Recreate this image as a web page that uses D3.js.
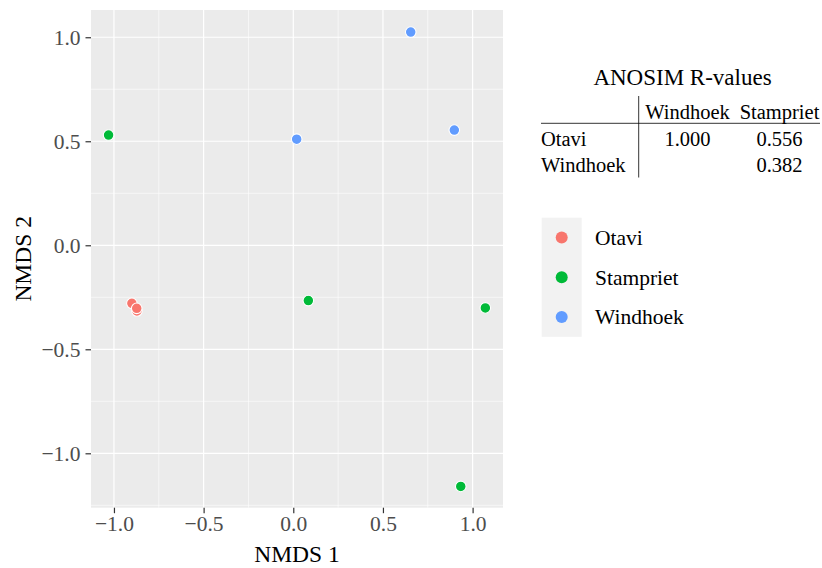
<!DOCTYPE html>
<html>
<head>
<meta charset="utf-8">
<script src="https://cdn.jsdelivr.net/npm/d3@7"></script>
<style>
	body { margin: 0; background: #fff; }
	svg { display: block; font-family: "Liberation Serif", "DejaVu Serif", serif; }
</style>
</head>
<body>
<svg id="chart"></svg>
<script>
;(() => {
	'use strict';

	// groups and their ggplot hue colours
	const groups = ['Otavi', 'Stampriet', 'Windhoek'],
		groupColors = ['#F8766D', '#00BA38', '#619CFF'];

	// NMDS scores
	const sampleSite = ['Otavi', 'Otavi', 'Otavi', 'Stampriet', 'Stampriet', 'Stampriet', 'Stampriet', 'Windhoek', 'Windhoek', 'Windhoek'],
		nmds1 = [-0.900, -0.872, -0.873, -1.030, 0.084, 1.071, 0.934, 0.019, 0.655, 0.898],
		nmds2 = [-0.279, -0.316, -0.303, 0.530, -0.266, -0.301, -1.159, 0.510, 1.025, 0.554];

	const xTicks = [-1, -0.5, 0, 0.5, 1],
		yTicks = [-1, -0.5, 0, 0.5, 1],
		xMinor = [-0.75, -0.25, 0.25, 0.75],
		yMinor = [-1.25, -0.75, -0.25, 0.25, 0.75];

	// ANOSIM table
	const tableTitle = 'ANOSIM R-values',
		tableCols = ['Windhoek', 'Stampriet'],
		tableRows = ['Otavi', 'Windhoek'],
		rValues = [['1.000', '0.556'], ['', '0.382']];

	const width = 822,
		height = 568,
		panel = {left: 91, right: 503, top: 10, bottom: 507.7};

	const svg = d3.select('#chart')
		.attr('width', width)
		.attr('height', height);

	const x = d3.scaleLinear().domain([-1.128, 1.1695]).range([panel.left, panel.right]),
		y = d3.scaleLinear().domain([-1.2615, 1.131]).range([panel.bottom, panel.top]),
		color = d3.scaleOrdinal().domain(groups).range(groupColors);

	const fmt = (d) => d3.format('.1f')(d).replace('-', '\u2212');

	// panel background
	svg.append('rect')
		.attr('x', panel.left)
		.attr('y', panel.top)
		.attr('width', panel.right - panel.left)
		.attr('height', panel.bottom - panel.top)
		.attr('fill', '#ebebeb');

	const grid = svg.append('g').attr('stroke', '#fff');

	grid.selectAll('.vminor').data(xMinor).enter().append('line')
		.attr('x1', x).attr('x2', x)
		.attr('y1', panel.top).attr('y2', panel.bottom)
		.attr('stroke-width', 0.6);
	grid.selectAll('.hminor').data(yMinor).enter().append('line')
		.attr('y1', y).attr('y2', y)
		.attr('x1', panel.left).attr('x2', panel.right)
		.attr('stroke-width', 0.6);
	grid.selectAll('.vmajor').data(xTicks).enter().append('line')
		.attr('x1', x).attr('x2', x)
		.attr('y1', panel.top).attr('y2', panel.bottom)
		.attr('stroke-width', 1.2);
	grid.selectAll('.hmajor').data(yTicks).enter().append('line')
		.attr('y1', y).attr('y2', y)
		.attr('x1', panel.left).attr('x2', panel.right)
		.attr('stroke-width', 1.2);

	// axes
	const xAxis = svg.append('g')
		.attr('transform', `translate(0,${panel.bottom})`)
		.call(d3.axisBottom(x).tickValues(xTicks).tickFormat(fmt).tickSize(5.5).tickPadding(3));
	const yAxis = svg.append('g')
		.attr('transform', `translate(${panel.left},0)`)
		.call(d3.axisLeft(y).tickValues(yTicks).tickFormat(fmt).tickSize(5.5).tickPadding(5));

	[xAxis, yAxis].forEach((ax) => {
		ax.select('.domain').remove();
		ax.selectAll('line').attr('stroke', '#333').attr('stroke-width', 1.2);
		ax.selectAll('text')
			.attr('fill', '#4d4d4d')
			.style('font-family', '"Liberation Serif", serif')
			.style('font-size', '21.5px');
	});

	svg.append('text')
		.attr('x', (panel.left + panel.right) / 2)
		.attr('y', 562)
		.attr('text-anchor', 'middle')
		.style('font-size', '23.5px')
		.text('NMDS 1');

	svg.append('text')
		.attr('transform', `translate(31,${(panel.top + panel.bottom) / 2}) rotate(-90)`)
		.attr('text-anchor', 'middle')
		.style('font-size', '23.5px')
		.text('NMDS 2');

	// points
	const points = sampleSite.map((s, i) => ({site: s, x: nmds1[i], y: nmds2[i]}));

	svg.append('g').selectAll('circle')
		.data(points)
		.enter()
		.append('circle')
		.attr('cx', (d) => x(d.x))
		.attr('cy', (d) => y(d.y))
		.attr('r', 5.3)
		.attr('fill', (d) => color(d.site))
		.attr('stroke', '#fff')
		.attr('stroke-width', 1.1);

	// ANOSIM table
	const table = svg.append('g');
	const colCenters = [687.5, 779.5],
		rowBase = [146, 171.5];

	table.append('text')
		.attr('x', 682.5).attr('y', 85)
		.attr('text-anchor', 'middle')
		.style('font-size', '23px')
		.text(tableTitle);

	table.selectAll('.colhead').data(tableCols).enter().append('text')
		.attr('x', (d, i) => colCenters[i]).attr('y', 118.5)
		.attr('text-anchor', 'middle')
		.style('font-size', '20.5px')
		.text((d) => d);

	table.selectAll('.rowhead').data(tableRows).enter().append('text')
		.attr('x', 541).attr('y', (d, i) => rowBase[i])
		.style('font-size', '20.5px')
		.text((d) => d);

	rValues.forEach((row, r) => {
		table.selectAll('.cell' + r).data(row).enter().append('text')
			.attr('x', (d, i) => colCenters[i]).attr('y', rowBase[r])
			.attr('text-anchor', 'middle')
			.style('font-size', '20.5px')
			.text((d) => d);
	});

	table.append('line')
		.attr('x1', 638.7).attr('x2', 638.7)
		.attr('y1', 96).attr('y2', 177.5)
		.attr('stroke', '#000').attr('stroke-width', 0.8);
	table.append('line')
		.attr('x1', 541).attr('x2', 820)
		.attr('y1', 123.3).attr('y2', 123.3)
		.attr('stroke', '#000').attr('stroke-width', 0.8);

	// legend
	const legend = svg.append('g').attr('transform', 'translate(541.7,217.7)'),
		keySize = 39.7;

	legend.append('rect')
		.attr('width', 40).attr('height', keySize * groups.length)
		.attr('fill', '#f2f2f2');

	const item = legend.selectAll('.item').data(groups).enter().append('g')
		.attr('transform', (d, i) => `translate(0,${i * keySize})`);

	item.append('circle')
		.attr('cx', 20).attr('cy', keySize / 2)
		.attr('r', 6)
		.attr('fill', (d) => color(d));

	item.append('text')
		.attr('x', 53.3).attr('y', keySize / 2 + 7.5)
		.style('font-size', '21.5px')
		.text((d) => d);

})();
</script>
</body>
</html>
